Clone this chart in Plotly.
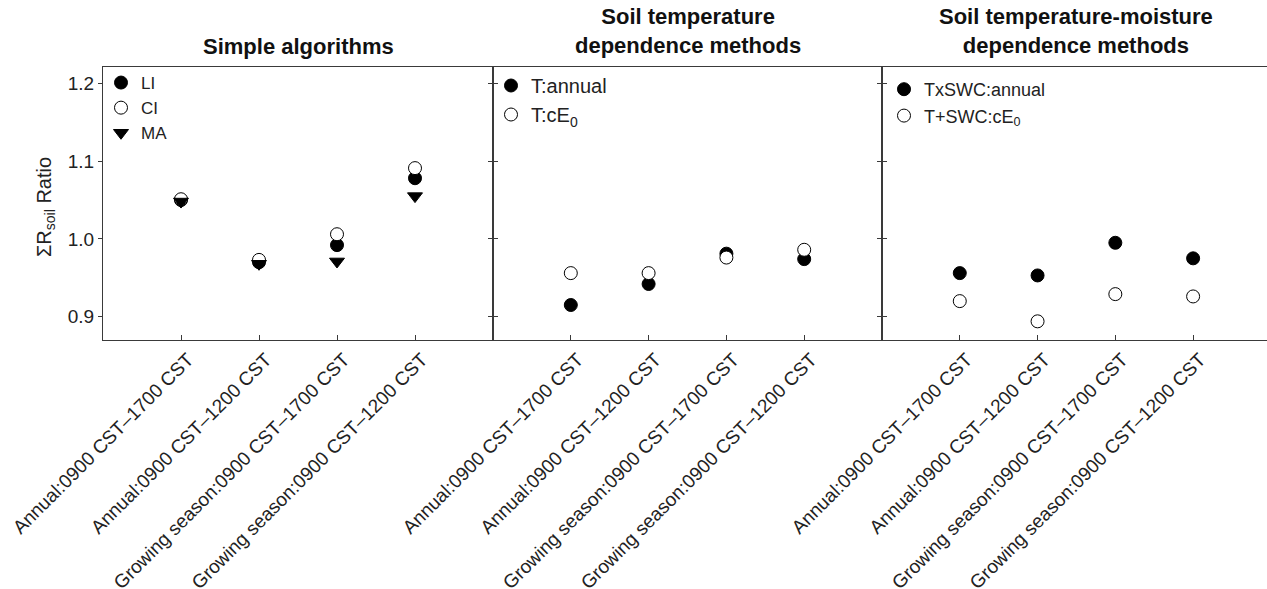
import plotly.graph_objects as go

categories = ["Annual:0900 CST–1700 CST", "Annual:0900 CST–1200 CST",
              "Growing season:0900 CST–1700 CST", "Growing season:0900 CST–1200 CST"]
li = [1.050, 0.970, 0.992, 1.078]
ci = [1.051, 0.973, 1.006, 1.091]
ma = [1.048, 0.968, 0.971, 1.055]
t_annual = [0.915, 0.942, 0.981, 0.974]
t_ce0 = [0.956, 0.956, 0.976, 0.986]
txswc_annual = [0.956, 0.953, 0.995, 0.975]
tswc_ce0 = [0.920, 0.894, 0.929, 0.926]
panel_titles = ["Simple algorithms", "Soil temperature<br>dependence methods",
                "Soil temperature-moisture<br>dependence methods"]
y_ticks = [0.9, 1.0, 1.1, 1.2]

FONT = "Arial, 'Liberation Sans', sans-serif"
LINE = "#3a3a3a"

W, H = 1267, 589
ML, MT, MB = 103, 67, 249
pw = W - ML
ph = H - MT - MB
def px2x(p):
    return (p - ML) / pw
def py2y(p):
    return (H - MB - p) / ph

d1 = px2x(493)
d2 = px2x(882)

fig = go.Figure()

def filled(name, x, y, xa, ya, leg, symbol="circle"):
    return go.Scatter(x=x, y=y, mode="markers", name=name, xaxis=xa, yaxis=ya, legend=leg,
                      marker=dict(symbol=symbol, size=13, color="black",
                                  line=dict(color="black", width=1)))

def hollow(name, x, y, xa, ya, leg):
    return go.Scatter(x=x, y=y, mode="markers", name=name, xaxis=xa, yaxis=ya, legend=leg,
                      marker=dict(symbol="circle", size=13, color="white",
                                  line=dict(color="black", width=1)))

fig.add_trace(filled("LI", categories, li, "x", "y", "legend"))
fig.add_trace(hollow("CI", categories, ci, "x", "y", "legend"))
fig.add_trace(filled("MA", categories, ma, "x", "y", "legend", symbol="triangle-down"))
fig.add_trace(filled("T:annual", categories, t_annual, "x2", "y2", "legend2"))
fig.add_trace(hollow("T:cE<sub>0</sub>", categories, t_ce0, "x2", "y2", "legend2"))
fig.add_trace(filled("TxSWC:annual", categories, txswc_annual, "x3", "y3", "legend3"))
fig.add_trace(hollow("T+SWC:cE<sub>0</sub>", categories, tswc_ce0, "x3", "y3", "legend3"))

xcommon = dict(type="category", categoryorder="array", categoryarray=categories,
               showline=True, linecolor=LINE, linewidth=1, mirror=True, automargin=False,
               ticks="inside", ticklen=5, tickcolor=LINE, tickangle=-45, ticklabelshift=7,
               tickfont=dict(family=FONT, size=19, color="#222"), showgrid=False, zeroline=False)
ycommon = dict(range=[0.87, 1.221], tickvals=y_ticks, tickformat=".1f", automargin=False,
               showline=True, linecolor=LINE, linewidth=1,
               ticks="outside", ticklen=4, tickcolor=LINE,
               tickfont=dict(family=FONT, size=19, color="#222"), showgrid=False, zeroline=False)

fig.update_layout(
    width=W, height=H,
    margin=dict(l=ML, r=0, t=MT, b=MB, autoexpand=False),
    paper_bgcolor="white", plot_bgcolor="white",
    font=dict(family=FONT, color="#222"),
    xaxis=dict(xcommon, domain=[0, d1], range=[-1, 4], anchor="y"),
    xaxis2=dict(xcommon, domain=[d1, d2], range=[-1, 4], anchor="y2"),
    xaxis3=dict(xcommon, domain=[d2, 1], range=[-1, 3.95], anchor="y3"),
    yaxis=dict(ycommon, mirror="ticks", anchor="x"),
    yaxis2=dict(ycommon, mirror="ticks", anchor="x2", showticklabels=False),
    yaxis3=dict(ycommon, mirror=False, anchor="x3", showticklabels=False),
    legend=dict(x=px2x(101), y=py2y(65), xanchor="left", yanchor="top", bgcolor="rgba(0,0,0,0)",
                font=dict(family=FONT, size=17, color="#222")),
    legend2=dict(x=px2x(491), y=py2y(66), xanchor="left", yanchor="top", bgcolor="rgba(0,0,0,0)",
                 font=dict(family=FONT, size=20, color="#222")),
    legend3=dict(x=px2x(884), y=py2y(71), xanchor="left", yanchor="top", bgcolor="rgba(0,0,0,0)",
                 font=dict(family=FONT, size=18, color="#222")),
    showlegend=True,
)

centers = [px2x(298), px2x(688), px2x(1076)]
ys = [py2y(46), py2y(31), py2y(31)]
for c, yv, t in zip(centers, ys, panel_titles):
    fig.add_annotation(x=c, y=yv, xref="paper", yref="paper", text="<b>" + t + "</b>",
                       showarrow=False, xanchor="center", yanchor="middle",
                       font=dict(family=FONT, size=22, color="#111"))

fig.add_annotation(x=px2x(45), y=py2y(207), xref="paper", yref="paper",
                   text="ΣR<sub>soil</sub> Ratio", textangle=-90, showarrow=False,
                   xanchor="center", yanchor="middle",
                   font=dict(family=FONT, size=20, color="#222"))

fig.write_html("out.html")
